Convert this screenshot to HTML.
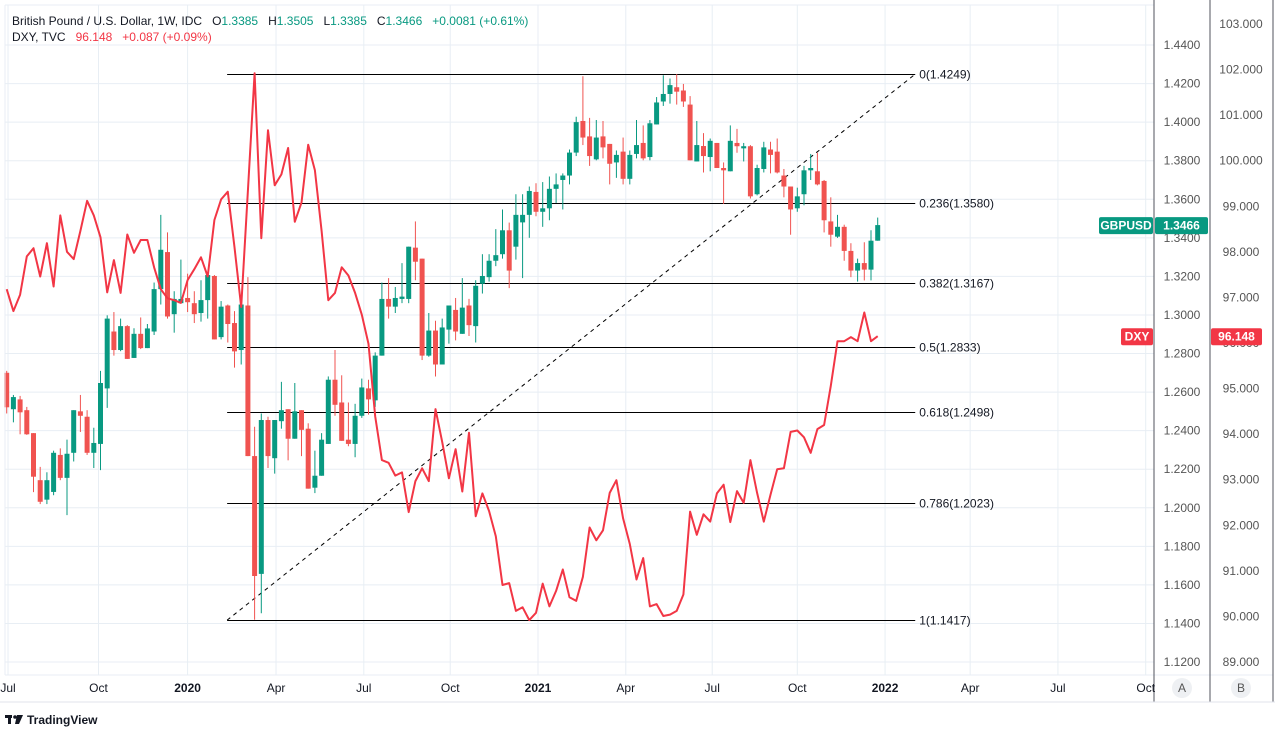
<!DOCTYPE html>
<html><head><meta charset="utf-8"><title>GBPUSD vs DXY</title>
<style>
html,body{margin:0;padding:0;background:#fff;width:1275px;height:730px;overflow:hidden;font-family:"Liberation Sans",sans-serif;}
svg text{font-family:"Liberation Sans",sans-serif;}
.pre{white-space:pre;}
</style></head>
<body>
<svg id="chart" width="1275" height="730" viewBox="0 0 1275 730" xmlns="http://www.w3.org/2000/svg">
  <rect x="0" y="0" width="1275" height="730" fill="#ffffff"/>
  <g id="grid"></g>
  <g id="fib"></g>
  <g id="candles"></g>
  <g id="dxy"></g>
  <g id="axes"></g>
  <g>
    <text class="pre" x="12" y="25" font-size="12" fill="#131722">British Pound / U.S. Dollar, 1W, IDC   O<tspan fill="#089981">1.3385</tspan>   H<tspan fill="#089981">1.3505</tspan>   L<tspan fill="#089981">1.3385</tspan>   C<tspan fill="#089981">1.3466</tspan>   <tspan fill="#089981">+0.0081 (+0.61%)</tspan></text>
    <text class="pre" x="12" y="41" font-size="12" fill="#131722">DXY, TVC   <tspan fill="#f23645">96.148   +0.087 (+0.09%)</tspan></text>
  </g>
  <g>
    <rect x="5" y="715" width="7" height="3" fill="#131722"/>
    <rect x="8" y="715" width="3" height="9" fill="#131722"/>
    <circle cx="15" cy="717" r="1.8" fill="#131722"/>
    <path d="M17 715 L23 715 L19 724 L15 724 Z" fill="#131722"/>
    <text x="27" y="724" font-size="12" fill="#131722" font-weight="bold">TradingView</text>
  </g>
</svg>
<script>
// GBPUSD weekly OHLC (Jul 2019 - Dec 2021)
const opens = [1.2700,1.2511,1.2562,1.2506,1.2387,1.2143,1.2042,1.2082,1.2274,1.2155,1.2285,1.2500,1.2472,1.2285,1.2331,1.2619,1.2914,1.2818,1.2942,1.2777,1.2902,1.2828,1.2914,1.3134,1.3326,1.3004,1.3061,1.3088,1.3061,1.3010,1.3077,1.3202,1.2885,1.3049,1.2958,1.2818,1.3049,1.2268,1.1657,1.2455,1.2257,1.2449,1.2511,1.2358,1.2506,1.2410,1.2104,1.2166,1.2331,1.2664,1.2546,1.2353,1.2331,1.2477,1.2619,1.2557,1.2789,1.3083,1.3043,1.3083,1.3083,1.3349,1.3292,1.2789,1.2919,1.2743,1.2924,1.3026,1.2902,1.3049,1.2942,1.3162,1.3196,1.3281,1.3315,1.3439,1.3354,1.3480,1.3519,1.3638,1.3535,1.3553,1.3654,1.3700,1.3723,1.3842,1.4006,1.3926,1.3807,1.3926,1.3887,1.3791,1.3847,1.3706,1.3835,1.3892,1.3819,1.3988,1.4107,1.4146,1.4181,1.4164,1.4091,1.3796,1.3876,1.3819,1.3892,1.3762,1.3745,1.3892,1.3864,1.3875,1.3626,1.3757,1.3858,1.3847,1.3723,1.3666,1.3553,1.3626,1.3750,1.3745,1.3695,1.3485,1.3406,1.3457,1.3332,1.3230,1.3269,1.3235,1.3385];
const highs = [1.2710,1.2585,1.2580,1.2523,1.2387,1.2212,1.2184,1.2296,1.2308,1.2353,1.2506,1.2585,1.2506,1.2415,1.2710,1.2998,1.3015,1.2981,1.2947,1.2931,1.2987,1.2953,1.3168,1.3519,1.3428,1.3123,1.3287,1.3214,1.3123,1.3180,1.3207,1.3207,1.3072,1.3054,1.3020,1.3054,1.3196,1.2420,1.2489,1.2472,1.2455,1.2653,1.2511,1.2647,1.2506,1.2438,1.2296,1.2387,1.2681,1.2818,1.2687,1.2546,1.2539,1.2670,1.2664,1.2806,1.3168,1.3191,1.3145,1.3269,1.3354,1.3485,1.3292,1.3010,1.2970,1.2981,1.3049,1.3088,1.3191,1.3083,1.3180,1.3315,1.3315,1.3445,1.3547,1.3479,1.3626,1.3626,1.3666,1.3683,1.3689,1.3718,1.3734,1.3734,1.3858,1.4028,1.4238,1.4022,1.4011,1.4006,1.3887,1.3853,1.3920,1.3853,1.4011,1.3983,1.4011,1.4130,1.4243,1.4226,1.4249,1.4198,1.4135,1.4006,1.3943,1.3915,1.3892,1.3791,1.3983,1.3965,1.3892,1.3881,1.3779,1.3898,1.3898,1.3915,1.3757,1.3666,1.3660,1.3773,1.3835,1.3841,1.3700,1.3610,1.3519,1.3468,1.3372,1.3292,1.3377,1.3439,1.3505];
const lows = [1.2489,1.2443,1.2381,1.2378,1.2081,1.2019,1.2019,1.2065,1.2143,1.1962,1.2240,1.2393,1.2274,1.2206,1.2195,1.2518,1.2789,1.2812,1.2772,1.2777,1.2823,1.2828,1.2896,1.3054,1.2981,1.2908,1.3061,1.3015,1.2958,1.2965,1.2981,1.2873,1.2873,1.2857,1.2727,1.2743,1.2268,1.1419,1.1453,1.2206,1.2177,1.2410,1.2246,1.2358,1.2268,1.2099,1.2076,1.2166,1.2331,1.2477,1.2347,1.2319,1.2262,1.2466,1.2483,1.2523,1.2789,1.2981,1.3010,1.3061,1.3061,1.3180,1.2766,1.2783,1.2681,1.2743,1.2851,1.2868,1.2902,1.2891,1.2857,1.3111,1.3173,1.3253,1.3292,1.3139,1.3287,1.3191,1.3400,1.3512,1.3457,1.3491,1.3581,1.3547,1.3677,1.3824,1.3881,1.3773,1.3802,1.3812,1.3677,1.3711,1.3677,1.3677,1.3812,1.3802,1.3802,1.3988,1.4084,1.4096,1.4091,1.4079,1.3802,1.3796,1.3739,1.3745,1.3762,1.3576,1.3745,1.3841,1.3796,1.3604,1.3620,1.3739,1.3734,1.3734,1.3610,1.3416,1.3535,1.3569,1.3700,1.3672,1.3428,1.3354,1.3400,1.3281,1.3196,1.3173,1.3179,1.3179,1.3385];
const closes = [1.2521,1.2574,1.2495,1.2381,1.2161,1.2031,1.2143,1.2285,1.2155,1.2280,1.2506,1.2477,1.2285,1.2336,1.2647,1.2981,1.2818,1.2942,1.2772,1.2902,1.2828,1.2930,1.3134,1.3338,1.2992,1.3083,1.3083,1.3066,1.3004,1.3077,1.3207,1.2873,1.3043,1.2953,1.2811,1.3054,1.2268,1.1646,1.2455,1.2268,1.2455,1.2506,1.2358,1.2500,1.2404,1.2099,1.2166,1.2353,1.2664,1.2534,1.2347,1.2331,1.2477,1.2624,1.2562,1.2789,1.3083,1.3043,1.3088,1.3095,1.3354,1.3276,1.2789,1.2919,1.2743,1.2935,1.3049,1.2914,1.3038,1.2947,1.3151,1.3202,1.3281,1.3310,1.3439,1.3230,1.3519,1.3519,1.3643,1.3535,1.3553,1.3654,1.3677,1.3723,1.3842,1.4000,1.3920,1.3824,1.3920,1.3869,1.3784,1.3830,1.3706,1.3830,1.3881,1.3812,1.3994,1.4102,1.4146,1.4192,1.4158,1.4107,1.3802,1.3881,1.3824,1.3903,1.3762,1.3750,1.3903,1.3875,1.3875,1.3615,1.3762,1.3869,1.3830,1.3739,1.3666,1.3547,1.3615,1.3750,1.3762,1.3677,1.3491,1.3416,1.3457,1.3332,1.3230,1.3269,1.3235,1.3385,1.3466];
// DXY weekly close
const dxyValues = [97.18,96.70,97.06,97.90,98.08,97.46,98.19,97.24,98.80,98.00,97.84,98.46,99.12,98.80,98.32,97.11,97.82,97.10,98.38,97.98,98.26,98.26,97.66,97.18,96.98,96.94,96.88,97.38,97.62,97.88,97.46,98.70,99.15,99.32,98.10,96.79,99.34,101.92,98.30,100.67,99.46,99.70,100.28,98.66,99.08,100.35,99.79,98.46,96.94,97.10,97.66,97.48,97.10,96.62,95.98,94.39,93.43,93.37,93.09,93.16,92.29,92.97,93.25,92.97,94.55,93.83,93.03,93.67,92.74,94.03,92.20,92.70,92.31,91.76,90.69,90.73,90.12,90.20,89.92,90.08,90.72,90.22,90.56,91.03,90.42,90.34,90.87,91.95,91.67,91.89,92.71,92.99,92.15,91.59,90.81,91.28,90.22,90.27,90.01,90.04,90.12,90.48,92.30,91.79,92.24,92.08,92.70,92.89,92.07,92.75,92.49,93.43,92.71,92.08,92.67,93.23,93.25,94.05,94.08,93.93,93.59,94.11,94.20,95.06,96.04,96.04,96.13,96.04,96.67,96.04,96.148];
// axis ticks
const priceTicks = [1.44,1.42,1.40,1.38,1.36,1.34,1.32,1.30,1.28,1.26,1.24,1.22,1.20,1.18,1.16,1.14,1.12];
const dxyTicks = [103,102,101,100,99,98,97,96,95,94,93,92,91,90,89];
const timeLabels = ["Jul","Oct","2020","Apr","Jul","Oct","2021","Apr","Jul","Oct","2022","Apr","Jul","Oct"];
const timeIndex = [0.2,13.7,27,40.2,53.3,66.2,79.3,92.4,105.3,118,131.1,143.8,156.9,170];
// Fibonacci retracement
const fibLevels = [0,0.236,0.382,0.5,0.618,0.786,1];
const fibPrices = [1.4249,1.3580,1.3167,1.2833,1.2498,1.2023,1.1417];
const fibStartIdx = 32.9, fibEndIdx = 135.6;

const NS = "http://www.w3.org/2000/svg";
function el(tag, attrs, parent){const e=document.createElementNS(NS,tag);for(const k in attrs)e.setAttribute(k,attrs[k]);parent.appendChild(e);return e;}
const xOf = i => 6.7 + i*6.70;
const yP = p => 45 + (1.44 - p)/0.02*38.5625;
const yD = v => 24 + (103 - v)*45.57;
const PANE_R = 1154, PANE_B = 675;

const grid = document.getElementById('grid');
priceTicks.forEach(t=>{
  const l = el('line',{x1:5,x2:PANE_R,y1:yP(t),y2:yP(t),stroke:'#e8eef4','stroke-width':1},grid);
  
  
});
timeIndex.forEach(i=>{
  const l = el('line',{x1:xOf(i),x2:xOf(i),y1:5,y2:PANE_B,stroke:'#e8eef4','stroke-width':1},grid);
  
  
});

// Fibonacci
const fib = document.getElementById('fib');
const fx1 = xOf(fibStartIdx), fx2 = xOf(fibEndIdx);
fibLevels.forEach((lv,k)=>{
  const price = fibPrices[k];
  const y = Math.round(yP(price))+0.5;
  const l = el('line',{x1:fx1,x2:fx2,y1:y,y2:y,stroke:'#000','stroke-width':1},fib);
  
  
  const t = el('text',{x:fx2+4,y:y+4,'font-size':12,fill:'#131722'},fib);
  t.textContent = lv + '(' + price.toFixed(4) + ')';
  
  
});
const diag = el('line',{x1:fx1,y1:yP(fibPrices[6]),x2:fx2,y2:yP(fibPrices[0]),stroke:'#000','stroke-width':1,'stroke-dasharray':'4,4'},fib);



// Candles
const cg = document.getElementById('candles');
opens.forEach((o,i)=>{
  const c = closes[i], up = c >= o, col = up ? '#089981' : '#f05350';
  const x = xOf(i);
  const w = el('line',{x1:x,x2:x,y1:yP(highs[i]),y2:yP(lows[i]),stroke:col,'stroke-width':1},cg);
  
  
  const top = yP(Math.max(o,c)), bot = yP(Math.min(o,c));
  const b = el('rect',{x:x-2.5,y:top,width:5,height:Math.max(1,bot-top),fill:col},cg);
  
  
});

// DXY line
const dg = document.getElementById('dxy');
const pts = dxyValues.map((v,i)=>xOf(i).toFixed(1)+','+yD(v).toFixed(1)).join(' ');
const pl = el('polyline',{points:pts,fill:'none',stroke:'#f23645','stroke-width':2,'stroke-linejoin':'round'},dg);



// Axes
const ax = document.getElementById('axes');
const frame = [[5,5,PANE_R,5],[5,5,5,PANE_B],[5,PANE_B,1273,PANE_B],[PANE_R,0,PANE_R,702],[1210,0,1210,702],[1273,0,1273,702]];
frame.forEach(f=>{
  const l = el('line',{x1:f[0],y1:f[1],x2:f[2],y2:f[3],stroke:(f[1]===5&&f[3]===5)||f[0]===5?'#e8eef4':'#50535e','stroke-width':1},ax);
  
  
});
const bl = el('line',{x1:0,y1:702,x2:1275,y2:702,stroke:'#e0e3eb','stroke-width':1},ax);


priceTicks.forEach(t=>{
  const tx = el('text',{x:1182,y:yP(t)+4,'font-size':12,fill:'#555','text-anchor':'middle'},ax);
  tx.textContent = t.toFixed(4);
  
  
});
dxyTicks.forEach(t=>{
  const tx = el('text',{x:1241,y:yD(t)+4,'font-size':12,fill:'#555','text-anchor':'middle'},ax);
  tx.textContent = t.toFixed(3);
  
  
});
timeLabels.forEach((s,k)=>{
  const tx = el('text',{x:xOf(timeIndex[k]),y:692,'font-size':12,fill:'#131722','text-anchor':'middle','font-weight':/^\d{4}$/.test(s)?'bold':'normal'},ax);
  tx.textContent = s;
  
  
});
[['A',1182],['B',1241]].forEach(a=>{
  const c = el('circle',{cx:a[1],cy:688,r:10,fill:'#eef0f3'},ax);
  
  
  const t = el('text',{x:a[1],y:692,'font-size':12,fill:'#555','text-anchor':'middle'},ax);
  t.textContent = a[0];
  
  
});

// Last value badges
function badge(x,y,w,txt,col,name){
  const r = el('rect',{x:x,y:y-8,width:w,height:17,rx:2,fill:col},ax);
  
  
  const t = el('text',{x:x+w/2,y:y+4.5,'font-size':12,fill:'#fff','text-anchor':'middle','font-weight':'bold'},ax);
  t.textContent = txt;
  
  
}
const lastC = closes[closes.length-1], lastD = dxyValues[dxyValues.length-1];
badge(1099,yP(lastC),54,'GBPUSD','#089981','gbpusd-name-badge');
badge(1155,yP(lastC),53,lastC.toFixed(4),'#089981','gbpusd-price-badge');
badge(1121,yD(lastD),32,'DXY','#f23645','dxy-name-badge');
badge(1211,yD(lastD),51,lastD.toFixed(3),'#f23645','dxy-price-badge');
</script>
</body></html>
